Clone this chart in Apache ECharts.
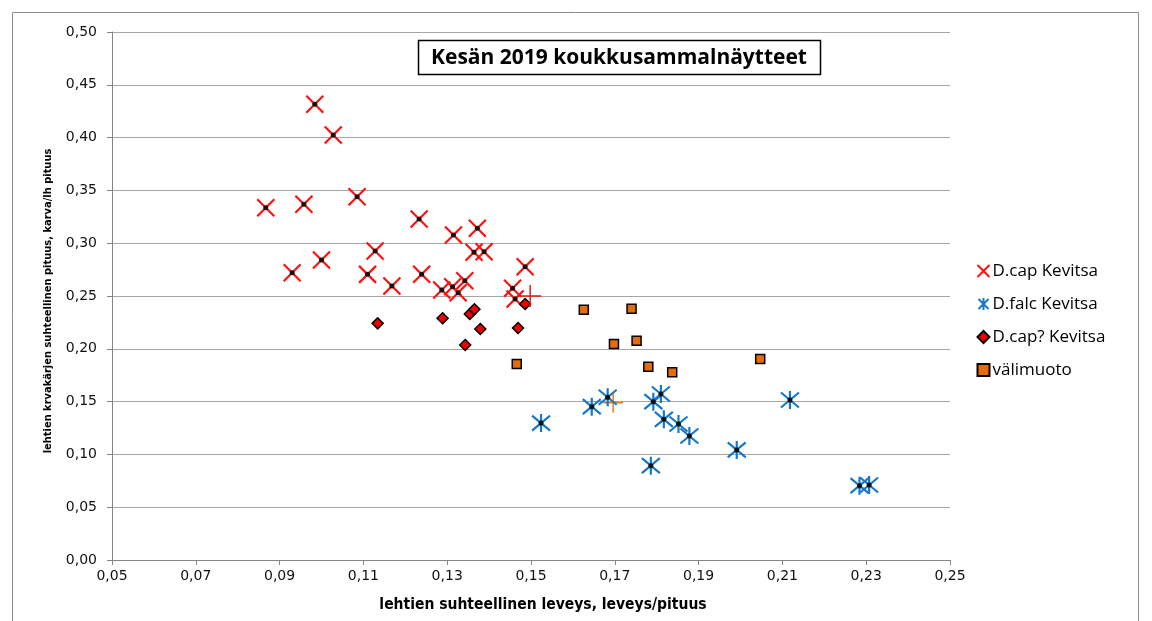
<!DOCTYPE html>
<html>
<head>
<meta charset="utf-8">
<script src="https://cdn.jsdelivr.net/npm/echarts@6/dist/echarts.min.js"></script>
<style>
html,body{margin:0;padding:0;background:#fff;}
#chart{width:1152px;height:621px;}
</style>
</head>
<body>
<div id="chart"></div>
<script>
var chartTitle = 'Kesän 2019 koukkusammalnäytteet';
var xAxisTitle = 'lehtien suhteellinen leveys, leveys/pituus';
var yAxisTitle = 'lehtien krvakärjen suhteellinen pituus, karva/lh pituus';
var seriesNames = ['D.cap Kevitsa', 'D.falc Kevitsa', 'D.cap? Kevitsa', 'välimuoto'];
var xTicks = [0.05, 0.07, 0.09, 0.11, 0.13, 0.15, 0.17, 0.19, 0.21, 0.23, 0.25];

var dcapKevitsa = [
  [0.0984, 0.4315], [0.1028, 0.4025], [0.0867, 0.3336], [0.0958, 0.3368],
  [0.1085, 0.3440], [0.1233, 0.3229], [0.1128, 0.2926], [0.1000, 0.2841],
  [0.0930, 0.2721], [0.1110, 0.2705], [0.1168, 0.2595], [0.1239, 0.2706],
  [0.1315, 0.3078], [0.1372, 0.3141], [0.1364, 0.2914], [0.1388, 0.2919],
  [0.1486, 0.2777], [0.1287, 0.2557], [0.1313, 0.2588], [0.1326, 0.2531],
  [0.1342, 0.2645], [0.1456, 0.2573], [0.1462, 0.2472]
];
var dfalcKevitsa = [
  [0.1524, 0.1297], [0.1645, 0.1452], [0.1683, 0.1541], [0.1792, 0.1499],
  [0.1810, 0.1572], [0.1817, 0.1332], [0.1852, 0.1288], [0.1878, 0.1174],
  [0.1786, 0.0893], [0.1991, 0.1042], [0.2118, 0.1515], [0.2284, 0.0704],
  [0.2307, 0.0710]
];
var dcapQKevitsa = [
  [0.1486, 0.2424], [0.1289, 0.2289], [0.1354, 0.2330], [0.1365, 0.2374],
  [0.1379, 0.2188], [0.1469, 0.2197], [0.1343, 0.2036], [0.1134, 0.2241]
];
var valimuoto = [
  [0.1466, 0.1856], [0.1626, 0.2370], [0.1740, 0.2380], [0.1698, 0.2045],
  [0.1752, 0.2077], [0.1780, 0.1830], [0.1837, 0.1778], [0.2047, 0.1903]
];
var dcapMean = [[0.1498, 0.2500]];
var valimuotoMean = [[0.1696, 0.1490]];

var fmt = function (v) { return Number(v).toFixed(2).replace('.', ','); };
var narrow = "'Liberation Sans Narrow', 'DejaVu Sans Condensed', 'Liberation Sans', sans-serif";

var chart = echarts.init(document.getElementById('chart'), null, {renderer: 'canvas'});
var option = {
  animation: false,
  backgroundColor: '#ffffff',
  grid: {left: 112, right: 202, top: 32, bottom: 61},
  xAxis: {
    type: 'value', min: 0.05, max: 0.25,
    name: xAxisTitle, nameLocation: 'middle', nameGap: 37,
    nameTextStyle: {fontFamily: narrow, fontWeight: 'bold', fontSize: 15.5, color: '#000', padding: [0, 0, 0, 24]},
    axisLine: {show: true, lineStyle: {color: '#868686', width: 1}},
    axisTick: {show: true, inside: false, length: 5, customValues: xTicks, lineStyle: {color: '#868686'}},
    axisLabel: {customValues: xTicks, formatter: fmt, fontFamily: 'DejaVu Sans', fontSize: 14, color: '#111', margin: 9},
    splitLine: {show: false}
  },
  yAxis: {
    type: 'value', min: 0, max: 0.5, interval: 0.05,
    name: yAxisTitle, nameLocation: 'middle', nameGap: 58,
    nameTextStyle: {fontFamily: narrow, fontWeight: 'bold', fontSize: 11, color: '#000', padding: [0, 10, 0, 0]},
    axisLine: {show: true, lineStyle: {color: '#868686', width: 1}},
    axisTick: {show: true, inside: false, length: 5, lineStyle: {color: '#868686'}},
    axisLabel: {formatter: fmt, fontFamily: 'DejaVu Sans', fontSize: 14, color: '#111', margin: 15},
    splitLine: {show: true, lineStyle: {color: '#a6a6a6', width: 1}}
  },
  legend: {
    data: seriesNames,
    orient: 'vertical', left: 970, top: 257,
    itemWidth: 12, itemHeight: 12, itemGap: 15,
    textStyle: {fontFamily: "'Open Sans', sans-serif", fontSize: 17, lineHeight: 18, color: '#000', padding: [0, 0, 0, -2]}
  },
  graphic: [
    {type: 'rect', shape: {x: 12.5, y: 12.5, width: 1126, height: 640}, style: {fill: 'none', stroke: '#8c8c8c', lineWidth: 1}, silent: true, z: -1},
    {type: 'rect', shape: {x: 418.5, y: 40.5, width: 402, height: 34}, style: {fill: '#fff', stroke: '#000', lineWidth: 1.5}, z: 10},
    {type: 'text', x: 619, y: 58, z: 11, style: {text: chartTitle, fontFamily: "'Open Sans', sans-serif", fontWeight: 'bold', fontSize: 21, fill: '#000', align: 'center', verticalAlign: 'middle'}}
  ],
  series: [
    {
      name: seriesNames[0], type: 'scatter', data: dcapKevitsa,
      symbol: 'path://M0,0L10,10M10,0L0,10', symbolSize: 17,
      itemStyle: {color: 'none', borderColor: '#ff1010', borderWidth: 2.2, opacity: 1}
    },
    {
      name: seriesNames[1], type: 'scatter', data: dfalcKevitsa,
      symbol: 'path://M0,0L10,10M10,0L0,10M5,-1L5,11', symbolSize: 18,
      itemStyle: {color: 'none', borderColor: '#1878c8', borderWidth: 2.2, opacity: 1}
    },
    {
      name: 'dot1', type: 'scatter', data: dcapKevitsa, symbol: 'circle', symbolSize: 5,
      itemStyle: {color: '#111', opacity: 1}, silent: true
    },
    {
      name: 'dot2', type: 'scatter', data: dfalcKevitsa, symbol: 'circle', symbolSize: 5,
      itemStyle: {color: '#111', opacity: 1}, silent: true
    },
    {
      name: seriesNames[2], type: 'scatter', data: dcapQKevitsa,
      symbol: 'diamond', symbolSize: 11,
      itemStyle: {color: '#ee0000', borderColor: '#000', borderWidth: 1.5, opacity: 1}
    },
    {
      name: seriesNames[3], type: 'scatter', data: valimuoto,
      symbol: 'rect', symbolSize: 9,
      itemStyle: {color: '#e46c0a', borderColor: '#000', borderWidth: 1.5, opacity: 1}
    },
    {
      name: 'mean1', type: 'scatter', data: dcapMean,
      symbol: 'path://M0,5L10,5M5,0L5,10', symbolSize: 22,
      itemStyle: {color: 'none', borderColor: '#e41a1a', borderWidth: 1.5, opacity: 1}
    },
    {
      name: 'mean2', type: 'scatter', data: valimuotoMean,
      symbol: 'path://M0,5L10,5M5,0L5,10', symbolSize: 20,
      itemStyle: {color: 'none', borderColor: '#ee7a1a', borderWidth: 1.5, opacity: 1}, z: 1
    }
  ]
};
chart.setOption(option);
</script>
</body>
</html>
